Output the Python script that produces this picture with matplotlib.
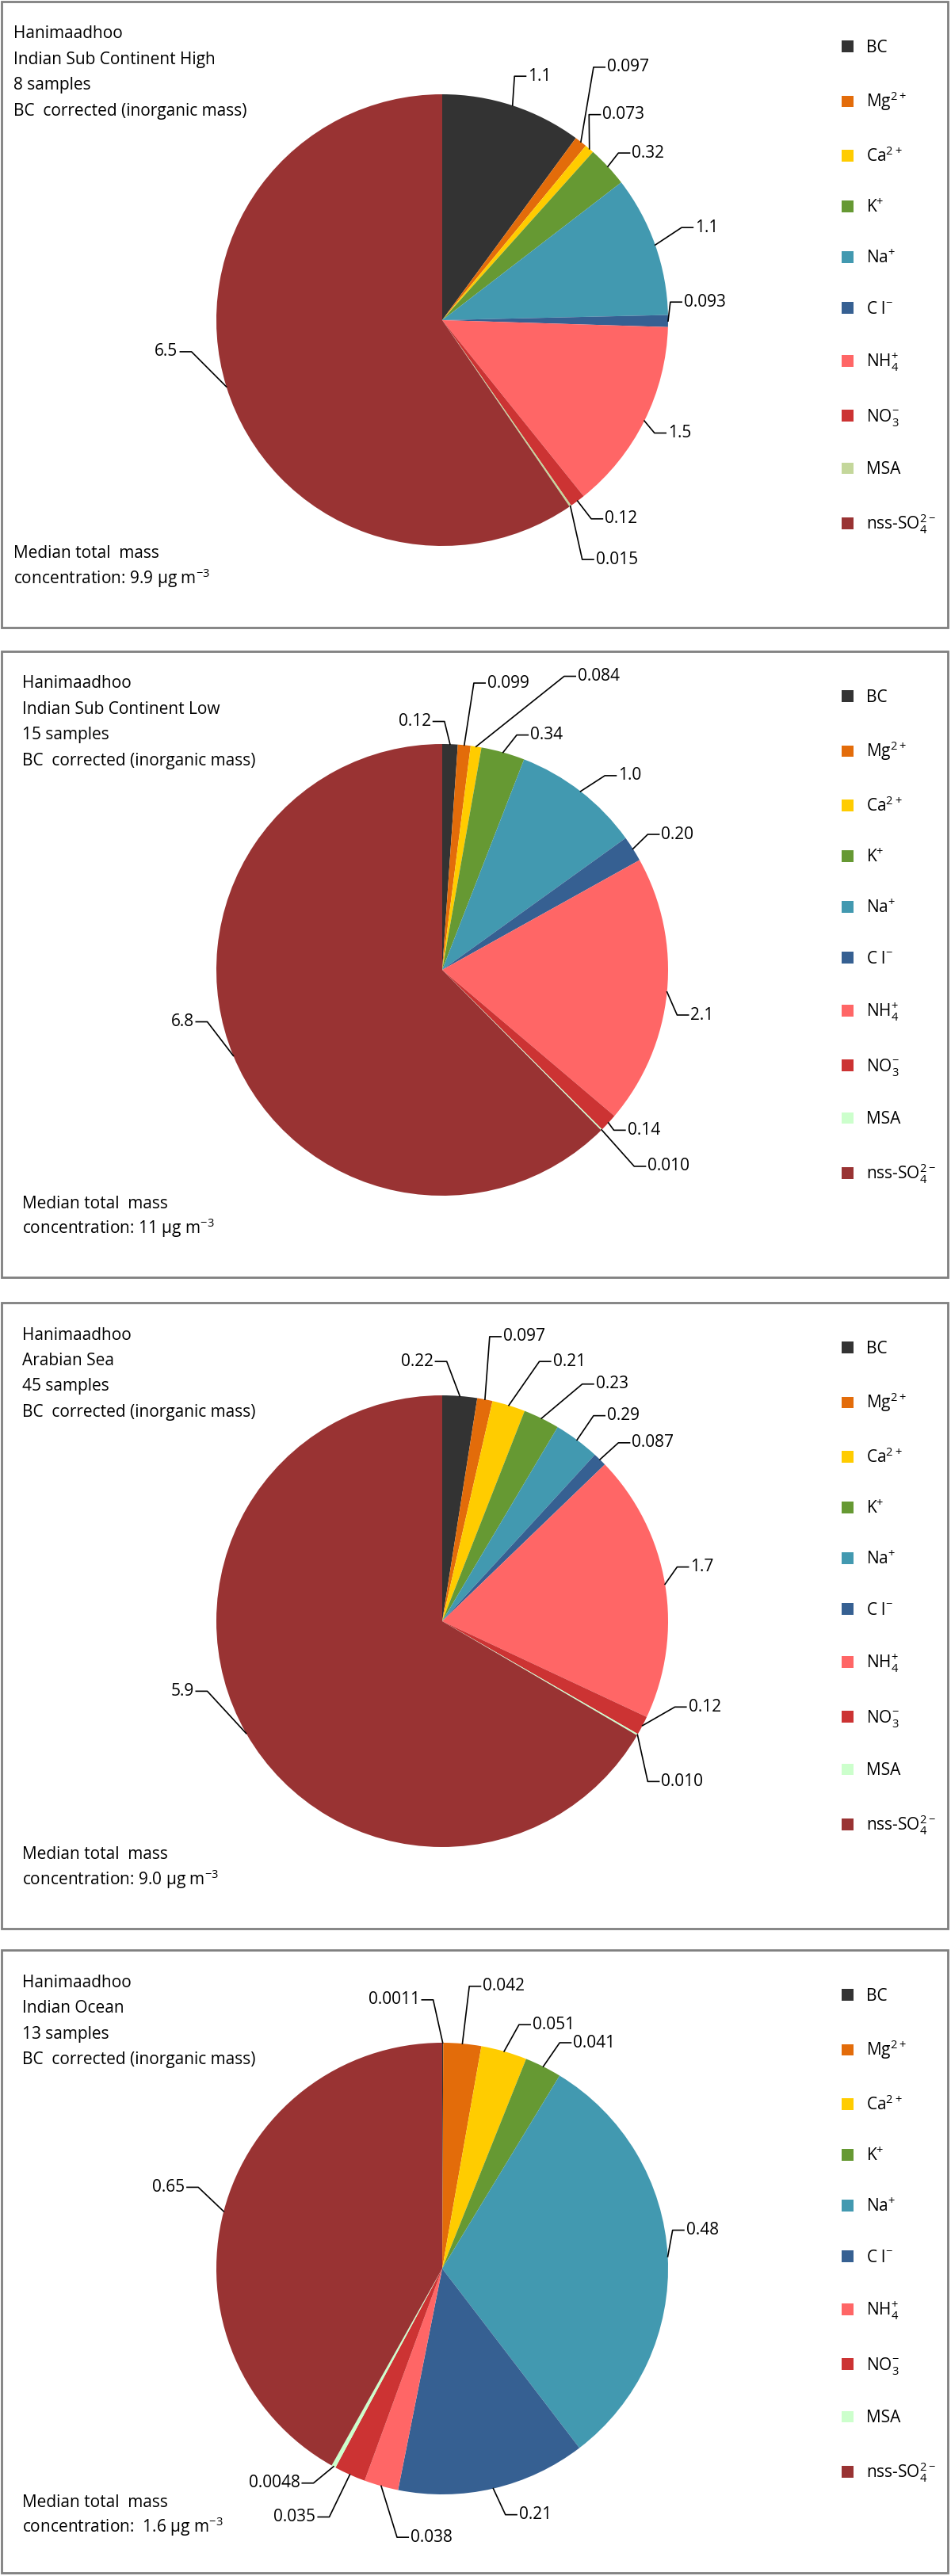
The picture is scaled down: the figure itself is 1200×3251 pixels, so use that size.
import numpy as np
import matplotlib.pyplot as plt
from matplotlib.patches import Rectangle, Patch

plt.rcParams['font.family'] = ['Open Sans', 'DejaVu Sans']
plt.rcParams['mathtext.fontset'] = 'custom'
plt.rcParams['mathtext.rm'] = 'Open Sans'
plt.rcParams['mathtext.it'] = 'Open Sans'

species = ['BC', 'Mg$^{2+}$', 'Ca$^{2+}$', 'K$^{+}$', 'Na$^{+}$', 'C l$^{-}$',
           'NH$_4^{+}$', 'NO$_3^{-}$', 'MSA', 'nss-SO$_4^{2-}$']
colors = ['#333333', '#e36c0a', '#ffcc00', '#669933', '#4299b0', '#366092',
          '#ff6666', '#cc3333', '#c4d79b', '#993333']
msa_light = '#ccffcc'

titles = ['Indian Sub Continent High', 'Indian Sub Continent Low', 'Arabian Sea', 'Indian Ocean']
n_samples = [8, 15, 45, 13]
medians = ['9.9', '11', '9.0', ' 1.6']

values_ish = [1.1, 0.097, 0.073, 0.32, 1.1, 0.093, 1.5, 0.12, 0.015, 6.5]
values_isl = [0.12, 0.099, 0.084, 0.34, 1.0, 0.20, 2.1, 0.14, 0.010, 6.8]
values_as = [0.22, 0.097, 0.21, 0.23, 0.29, 0.087, 1.7, 0.12, 0.010, 5.9]
values_io = [0.0011, 0.042, 0.051, 0.041, 0.48, 0.21, 0.038, 0.035, 0.0048, 0.65]
labels_ish = ['1.1', '0.097', '0.073', '0.32', '1.1', '0.093', '1.5', '0.12', '0.015', '6.5']
labels_isl = ['0.12', '0.099', '0.084', '0.34', '1.0', '0.20', '2.1', '0.14', '0.010', '6.8']
labels_as = ['0.22', '0.097', '0.21', '0.23', '0.29', '0.087', '1.7', '0.12', '0.010', '5.9']
labels_io = ['0.0011', '0.042', '0.051', '0.041', '0.48', '0.21', '0.038', '0.035', '0.0048', '0.65']

# label anchor positions (pie radius units), negative x -> text on the left
lab_pos = [
    [(0.37, 1.08), (0.72, 1.12), (0.70, 0.91), (0.83, 0.74), (1.11, 0.41),
     (1.06, 0.08), (0.99, -0.50), (0.71, -0.88), (0.67, -1.06), (-1.16, -0.14)],
    [(-0.04, 1.10), (0.19, 1.27), (0.59, 1.30), (0.38, 1.04), (0.77, 0.86),
     (0.96, 0.60), (1.09, -0.20), (0.81, -0.71), (0.90, -0.87), (-1.09, -0.23)],
    [(-0.03, 1.15), (0.26, 1.26), (0.48, 1.15), (0.67, 1.05), (0.72, 0.91),
     (0.83, 0.79), (1.09, 0.24), (1.08, -0.38), (0.96, -0.71), (-1.09, -0.31)],
    [(-0.09, 1.19), (0.17, 1.25), (0.39, 1.08), (0.57, 1.00), (1.07, 0.17),
     (0.33, -1.09), (-0.15, -1.19), (-0.55, -1.10), (-0.62, -0.95), (-1.13, 0.36)],
]
left_side = [
    [False] * 9 + [True],
    [True] + [False] * 8 + [True],
    [True] + [False] * 8 + [True],
    [True, False, False, False, False, False, False, True, True, True],
]

all_values = [values_ish, values_isl, values_as, values_io]
all_labels = [labels_ish, labels_isl, labels_as, labels_io]

W, H = 1200, 3251
fig = plt.figure(figsize=(W / 100, H / 100), dpi=100)
tops = [2, 822, 1644, 2461]
heights = [790, 790, 790, 786]
FS = 15


def fx(x):
    return x / W


def fy(y):
    return 1 - y / H


for i in range(4):
    top = tops[i]
    fig.patches.append(Rectangle((fx(2), fy(top + heights[i])), fx(1194), heights[i] / H,
                                 transform=fig.transFigure, fill=False,
                                 edgecolor='#808080', lw=2))
    tx = 17 if i == 0 else 28
    head = ['Hanimaadhoo', titles[i], f'{n_samples[i]} samples', 'BC  corrected (inorganic mass)']
    for k, line in enumerate(head):
        fig.text(fx(tx), fy(top + 41 + 32.5 * k), line, fontsize=FS, va='center', ha='left')
    fig.text(fx(tx), fy(top + 697), 'Median total  mass', fontsize=FS, va='center')
    fig.text(fx(tx), fy(top + 728), 'concentration: ' + medians[i] + r' µg m$^{-3}$',
             fontsize=FS, va='center')

    cols = list(colors)
    if i > 0:
        cols[8] = msa_light
    vals = np.array(all_values[i])
    cx, cy, R = 558, top + 402, 285
    ax = fig.add_axes([fx(cx - R), fy(cy + R), 2 * R / W, 2 * R / H])
    ax.pie(vals, colors=cols, startangle=90, counterclock=False, radius=1,
           wedgeprops=dict(linewidth=0))
    ax.set_xlim(-1, 1)
    ax.set_ylim(-1, 1)
    ax.axis('off')

    cum = np.cumsum(vals) - vals / 2
    for j, v in enumerate(vals):
        th = np.deg2rad(90 - 360 * cum[j] / vals.sum())
        ex, ey = np.cos(th), np.sin(th)
        lx, ly = lab_pos[i][j]
        s = -1 if left_side[i][j] else 1
        elbow = lx - s * 0.05
        ax.plot([ex, elbow, lx], [ey, ly, ly], color='black', lw=1.2, clip_on=False)
        ax.text(lx + s * 0.01, ly, all_labels[i][j], fontsize=FS,
                ha='right' if s < 0 else 'left', va='center', clip_on=False)

    handles = [Patch(facecolor=c, edgecolor='none') for c in cols]
    fig.legend(handles, species, loc='upper left', frameon=False, fontsize=FS,
               bbox_to_anchor=(fx(1062), fy(top + 48)), handlelength=0.7,
               handleheight=0.7, handletextpad=0.8, labelspacing=2.05,
               borderaxespad=0, borderpad=0)

fig.savefig('out.png', dpi=100)
